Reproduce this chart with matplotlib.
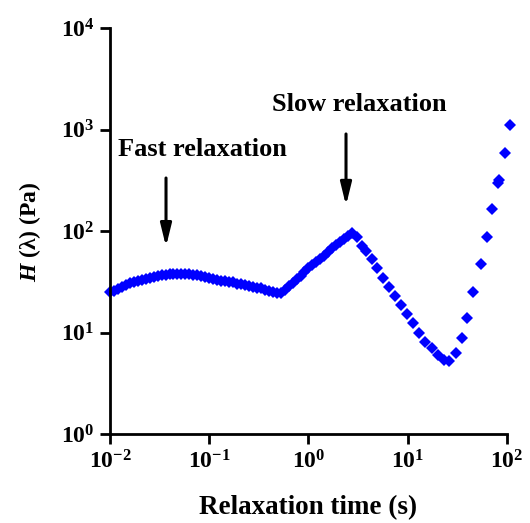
import matplotlib
matplotlib.use('Agg')

import numpy as np
import matplotlib.pyplot as plt
import matplotlib.ticker as mticker

# relaxation spectrum H(lambda)
tau_fast = [0.0100, 0.01096, 0.01202, 0.01318, 0.01445, 0.01585, 0.01738, 0.01905,
            0.02089, 0.02291, 0.02512, 0.02754, 0.03020, 0.03311, 0.03631, 0.03981,
            0.04365, 0.04786, 0.05248, 0.05754, 0.06310, 0.06918, 0.07586, 0.08318,
            0.09120, 0.1000, 0.1096, 0.1202, 0.1318, 0.1445, 0.1585, 0.1738,
            0.1905, 0.2089, 0.2291, 0.2512, 0.2754, 0.3020, 0.3311, 0.3631,
            0.3981, 0.4365, 0.4786, 0.5248, 0.5754, 0.6310, 0.6918, 0.7586,
            0.8318, 0.9120, 1.000, 1.096, 1.202, 1.318, 1.445, 1.585,
            1.738, 1.905, 2.089, 2.291, 2.512, 2.754]
h_fast = [25.1, 26.0, 26.9, 28.3, 29.6, 30.7, 31.5, 32.4,
          33.2, 33.8, 34.4, 35.3, 36.4, 37.0, 37.4, 37.7,
          37.9, 38.1, 38.1, 37.9, 37.7, 37.2, 36.7, 36.2,
          35.3, 34.6, 33.8, 33.0, 32.6, 32.3, 31.9, 31.2,
          30.4, 29.9, 29.4, 28.8, 28.3, 27.8, 27.3, 26.4,
          25.8, 25.1, 24.5, 24.8, 26.5, 28.5, 31.0, 33.6,
          36.0, 39.5, 43.3, 46.5, 49.8, 53.0, 57.5, 62.5,
          67.5, 72.5, 78.0, 84.0, 90.5, 97.0]

tau_slow = [3.09, 3.47, 3.81, 4.38, 4.92, 5.65, 6.50, 7.47, 8.58, 9.86,
            11.3, 13.0, 15.0, 17.6, 20.2, 23.3, 26.1,
            30.7, 35.3, 39.7, 45.6, 54.9, 63.1, 70.9, 80.5, 82.5, 95.9, 107.7]
h_slow = [87.3, 71.2, 63.5, 53.0, 43.2, 34.4, 28.1, 22.9, 18.7, 15.2,
          12.4, 9.89, 8.06, 7.03, 6.00, 5.35, 5.24,
          6.28, 8.83, 13.9, 25.1, 47.3, 87.3, 165, 300, 322, 587, 1107]

x_ticks = [1e-2, 1e-1, 1e0, 1e1, 1e2]
y_ticks = [1e0, 1e1, 1e2, 1e3, 1e4]

plt.rcParams['font.family'] = 'Liberation Serif'
plt.rcParams['font.weight'] = 'bold'
plt.rcParams['mathtext.fontset'] = 'custom'
plt.rcParams['mathtext.rm'] = 'Liberation Serif:bold'
plt.rcParams['mathtext.bf'] = 'Liberation Serif:bold'
plt.rcParams['mathtext.it'] = 'Liberation Serif:bold:italic'

fig = plt.figure(figsize=(5.3, 5.23), dpi=100)
ax = fig.add_axes([0.2075, 0.170, 0.749, 0.776])

tau = tau_fast + tau_slow
h = h_fast + h_slow
ax.plot(tau, h, linestyle='none', marker='D', markersize=6.5,
        color='#0000ff', markeredgewidth=0, clip_on=False)

ax.set_xscale('log')
ax.set_yscale('log')
ax.set_xlim(1e-2, 1e2)
ax.set_ylim(1e0, 1e4)

def pow_fmt(v, pos):
    e = int(round(np.log10(v)))
    return r'$\mathbf{10^{%d}}$' % e

ax.xaxis.set_major_locator(mticker.FixedLocator(x_ticks))
ax.yaxis.set_major_locator(mticker.FixedLocator(y_ticks))
ax.xaxis.set_minor_locator(mticker.NullLocator())
ax.yaxis.set_minor_locator(mticker.NullLocator())
ax.xaxis.set_major_formatter(mticker.FuncFormatter(pow_fmt))
ax.yaxis.set_major_formatter(mticker.FuncFormatter(pow_fmt))

ax.spines['top'].set_visible(False)
ax.spines['right'].set_visible(False)
for s in ['left', 'bottom']:
    ax.spines[s].set_linewidth(2)
ax.tick_params(direction='out', length=7, width=2, labelsize=17)
ax.tick_params(axis='x', pad=5)
ax.tick_params(axis='y', pad=4)

ax.set_xlabel('Relaxation time (s)', fontsize=19.5, fontweight='bold', labelpad=15)
ax.set_ylabel(r'$\mathit{H}$ ($\mathbf{\lambda}$) (Pa)', fontsize=17, fontweight='bold', labelpad=13)

# arrows and labels
arrow_style = '-|>,head_length=0.9,head_width=0.22'
ax.annotate('', xy=(0.0367, 66), xytext=(0.0367, 356),
            arrowprops=dict(arrowstyle=arrow_style, color='black', lw=2.2,
                            mutation_scale=15))
ax.text(0.0120, 643, 'Fast relaxation', fontsize=19, fontweight='bold', va='center')
ax.annotate('', xy=(2.39, 168), xytext=(2.39, 967),
            arrowprops=dict(arrowstyle=arrow_style, color='black', lw=2.2,
                            mutation_scale=15))
ax.text(0.430, 1783, 'Slow relaxation', fontsize=19, fontweight='bold', va='center')

fig.savefig('out.png', dpi=100)
